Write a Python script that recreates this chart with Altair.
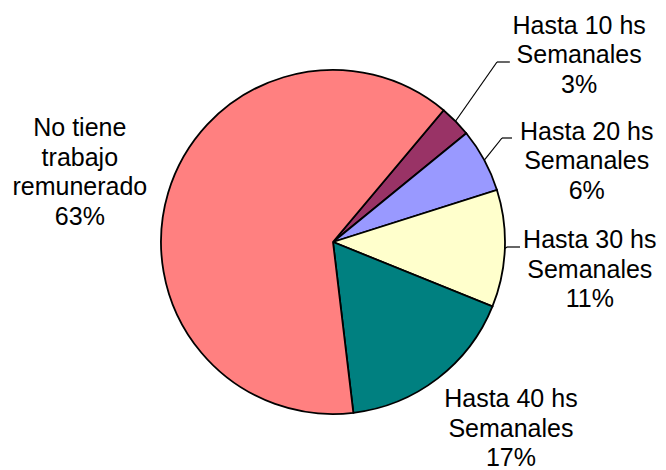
import math
import altair as alt
import pandas as pd

# ---- data ----
categories = [
    "Hasta 10 hs Semanales",
    "Hasta 20 hs Semanales",
    "Hasta 30 hs Semanales",
    "Hasta 40 hs Semanales",
    "No tiene trabajo remunerado",
]
label_texts = [
    "Hasta 10 hs\nSemanales\n3%",
    "Hasta 20 hs\nSemanales\n6%",
    "Hasta 30 hs\nSemanales\n11%",
    "Hasta 40 hs\nSemanales\n17%",
    "No tiene\ntrabajo\nremunerado\n63%",
]
values = [3, 6, 11, 17, 63]
colors = ["#993366", "#9999FF", "#FFFFCC", "#008080", "#FF8080"]

df = pd.DataFrame({
    "idx": list(range(len(categories))),
    "cat": categories,
    "label": label_texts,
    "value": values,
})

# ---- layout / style ----
W, H = 650, 440
CX, CY = W / 2, H / 2
R = 172
START = math.radians(40)
TH_RANGE = [START, START + 2 * math.pi]
FONT = "Liberation Sans"
LABEL_R = 260
LH = 29.5
# per-label offsets (dx, dy) from the mid-angle anchor (before multi-line centring)
label_offsets = [(61, -4), (25, 43), (-3, 18), (20, -20), (-4, 5)]
# leader lines: (elbow, end) in view pixels, start on the pie edge
leaders = {0: ((489, 40), (502, 40)), 1: ((494, 116), (504, 116)), 2: ((499, 225), (512, 225))}

base = alt.Chart(df)

pie = base.mark_arc(outerRadius=R, stroke="black", strokeWidth=1.8).encode(
    theta=alt.Theta("value:Q", stack=True, scale=alt.Scale(range=TH_RANGE)),
    color=alt.Color("cat:N", scale=alt.Scale(domain=categories, range=colors), legend=None),
    order=alt.Order("idx:Q"),
)

mid = base.transform_window(
    cum="sum(value)", sort=[alt.SortField("idx")], frame=[None, 0]
).transform_calculate(
    mid="datum.cum - datum.value / 2"
).transform_calculate(
    th=f"{START} + datum.mid / 100 * 2 * PI"
).transform_calculate(
    x0=f"{CX} + {R} * sin(datum.th)",
    y0=f"{CY} - {R} * cos(datum.th)",
)

layers = [pie]
for i, (dx, dy) in enumerate(label_offsets):
    n_lines = label_texts[i].count("\n") + 1
    layers.append(
        mid.transform_filter(f"datum.idx == {i}").mark_text(
            radius=LABEL_R, dx=dx, dy=dy - (n_lines - 1) * LH / 2, font=FONT, fontSize=25,
            lineBreak="\n", lineHeight=LH, align="center", baseline="middle",
            color="black",
        ).encode(
            theta=alt.Theta("mid:Q", stack=None, scale=alt.Scale(domain=[0, 100], range=TH_RANGE)),
            text="label:N",
        )
    )

for i, (elbow, end) in leaders.items():
    layers.append(
        mid.transform_filter(f"datum.idx == {i}").mark_rule(color="black", strokeWidth=1.2).encode(
            x=alt.X("x0:Q", scale=None, axis=None),
            y=alt.Y("y0:Q", scale=None, axis=None),
            x2=alt.value(elbow[0]),
            y2=alt.value(elbow[1]),
        )
    )
    layers.append(
        mid.transform_filter(f"datum.idx == {i}").mark_rule(color="black", strokeWidth=1.2).encode(
            x=alt.value(elbow[0]),
            y=alt.value(elbow[1]),
            x2=alt.value(end[0]),
            y2=alt.value(end[1]),
        )
    )

chart = alt.layer(*layers).properties(
    width=W, height=H,
    autosize="none",
    padding={"left": 0, "top": 14, "right": 0, "bottom": 8},
    background="white",
).configure_view(stroke=None)

chart.save("out.html", embed_options={"renderer": "svg", "actions": False})
